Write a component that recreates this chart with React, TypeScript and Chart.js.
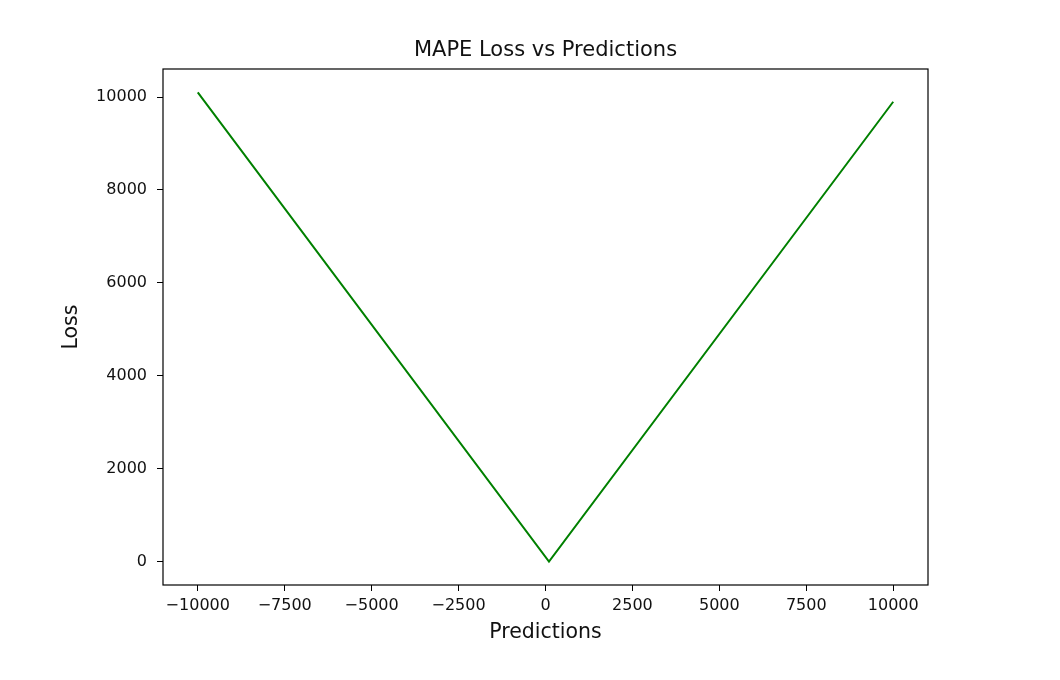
import React, { useEffect, useRef } from "react";
import { Chart, registerables } from "chart.js";

Chart.register(...registerables);

// ---- data ----
const predictions = [-10000, 100, 10000];
const lossValues = [10100, 0, 9900];
const xTickValues = [-10000, -7500, -5000, -2500, 0, 2500, 5000, 7500, 10000];
const yTickValues = [0, 2000, 4000, 6000, 8000, 10000];
const titleText = "MAPE Loss vs Predictions";
const xLabel = "Predictions";
const yLabel = "Loss";

const FONT = "'DejaVu Sans', sans-serif";

const fmt = (v: number) => (v < 0 ? "\u2212" + Math.abs(v) : String(v));

const frame = {
  id: "frame",
  afterDatasetsDraw(chart: any) {
    const { ctx, chartArea } = chart;
    ctx.save();
    ctx.strokeStyle = "#000";
    ctx.lineWidth = 1.2;
    ctx.strokeRect(chartArea.left, chartArea.top, chartArea.right - chartArea.left, chartArea.bottom - chartArea.top);
    ctx.restore();
  },
};

export default function App() {
  const ref = useRef<HTMLCanvasElement>(null);
  useEffect(() => {
    if (!ref.current) return;
    const chart = new Chart(ref.current, {
      type: "scatter",
      data: {
        datasets: [
          {
            data: predictions.map((x, i) => ({ x, y: lossValues[i] })),
            showLine: true,
            borderColor: "#008000",
            borderWidth: 2,
            pointRadius: 0,
            fill: false,
          },
        ],
      },
      plugins: [frame],
      options: {
        animation: false,
        responsive: true,
        maintainAspectRatio: false,
        layout: { padding: { left: 0, right: 132, top: 0, bottom: 0 } },
        plugins: {
          legend: { display: false },
          tooltip: { enabled: false },
          title: {
            display: true,
            text: titleText,
            fullSize: false,
            color: "#111",
            font: { family: FONT, size: 21, weight: "normal", lineHeight: 1.2 },
            padding: { top: 38, bottom: 5.8 },
          },
        },
        scales: {
          x: {
            type: "linear",
            min: -11000,
            max: 11000,
            border: { display: false },
            grid: { display: true, drawOnChartArea: false, drawTicks: true, tickLength: 6, color: "#000", lineWidth: 1 },
            afterBuildTicks: (scale: any) => {
              scale.ticks = xTickValues.map((v) => ({ value: v }));
            },
            afterFit: (scale: any) => {
              scale.height = 95;
            },
            ticks: {
              color: "#111",
              padding: 5,
              maxRotation: 0,
              autoSkip: false,
              font: { family: FONT, size: 16 },
              callback: (v: any) => fmt(Number(v)),
            },
            title: {
              display: true,
              text: xLabel,
              color: "#111",
              font: { family: FONT, size: 20.5, lineHeight: 1.2 },
              padding: { top: 0, bottom: 35.5 },
            },
          },
          y: {
            type: "linear",
            min: -505,
            max: 10605,
            border: { display: false },
            grid: { display: true, drawOnChartArea: false, drawTicks: true, tickLength: 6, color: "#000", lineWidth: 1 },
            afterBuildTicks: (scale: any) => {
              scale.ticks = yTickValues.map((v) => ({ value: v }));
            },
            afterFit: (scale: any) => {
              scale.width = 163;
            },
            ticks: {
              color: "#111",
              padding: 10,
              autoSkip: false,
              font: { family: FONT, size: 16 },
              callback: (v: any) => fmt(Number(v)),
            },
            title: {
              display: true,
              text: yLabel,
              color: "#111",
              font: { family: FONT, size: 20.5, lineHeight: 1.2 },
              padding: { top: 59, bottom: 0 },
            },
          },
        },
      },
    });
    return () => chart.destroy();
  }, []);
  return (
    <div style={{ position: "fixed", left: 0, top: 0, width: 1060, height: 680, background: "#fff" }}>
      <canvas ref={ref} />
    </div>
  );
}
